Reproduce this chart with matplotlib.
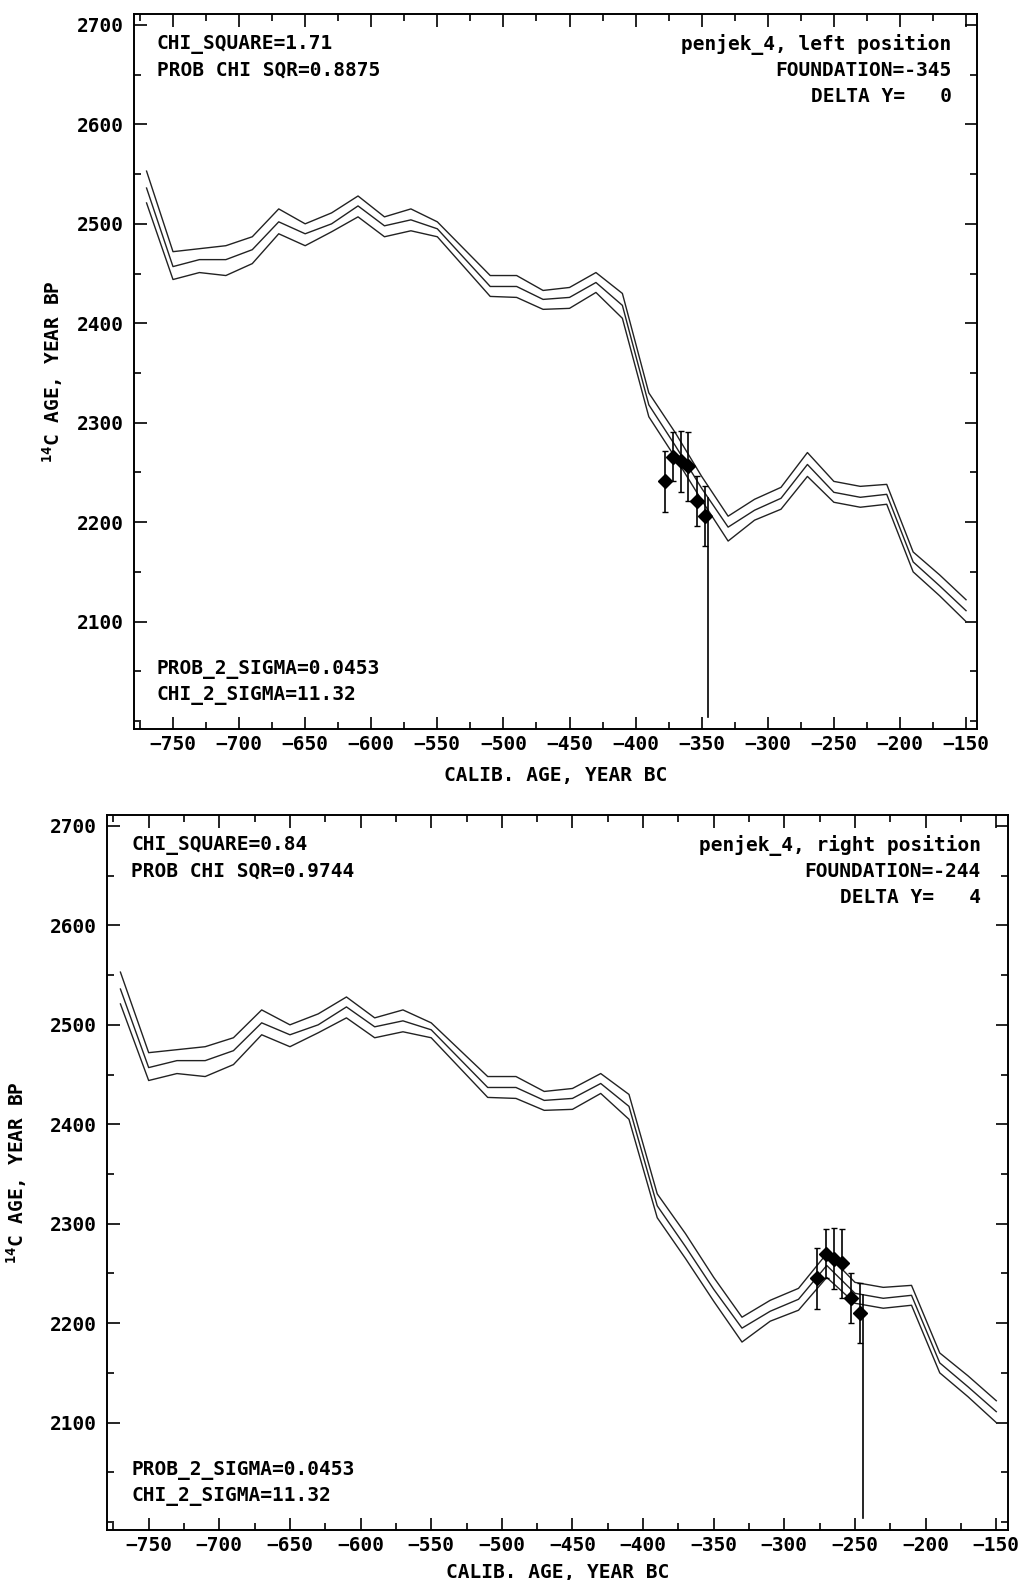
import matplotlib
matplotlib.use('Agg')
import matplotlib.pyplot as plt
from matplotlib.ticker import MultipleLocator
import numpy as np

plt.rcParams['font.family'] = 'DejaVu Sans Mono'
plt.rcParams['font.weight'] = 'bold'
plt.rcParams['axes.labelweight'] = 'bold'
plt.rcParams['mathtext.fontset'] = 'custom'
plt.rcParams['mathtext.rm'] = 'DejaVu Sans Mono:bold'
plt.rcParams['mathtext.default'] = 'rm'

# calibration curve: cal. year, 14C age and the +/- 1 sigma band
cal_years = [-770, -750, -730, -710, -690, -670, -650, -630, -610, -590, -570,
             -550, -530, -510, -490, -470, -450, -430, -410, -390, -370, -350,
             -330, -310, -290, -270, -250, -230, -210, -190, -170, -150]
cal_mid = [2536, 2457, 2464, 2464, 2474, 2502, 2490, 2500, 2518, 2498, 2504,
           2495, 2466, 2437, 2437, 2424, 2426, 2441, 2418, 2318, 2277, 2234,
           2195, 2212, 2224, 2258, 2230, 2225, 2228, 2160, 2136, 2111]
cal_upper = [2553, 2472, 2475, 2478, 2487, 2515, 2500, 2511, 2528, 2507, 2515,
             2502, 2475, 2448, 2448, 2433, 2436, 2451, 2430, 2330, 2290, 2246,
             2206, 2223, 2235, 2270, 2241, 2236, 2238, 2170, 2147, 2122]
cal_lower = [2521, 2444, 2451, 2448, 2460, 2490, 2478, 2492, 2507, 2487, 2493,
             2487, 2457, 2427, 2426, 2414, 2415, 2431, 2405, 2306, 2265, 2222,
             2181, 2202, 2213, 2246, 2220, 2215, 2218, 2150, 2126, 2100]

# wiggle-match samples (rings before foundation)
ring_offsets = [33, 26.5, 21, 15, 8.5, 2.5]
sample_c14 = [2241, 2266, 2261, 2256, 2221, 2206]
sample_err = [31, 25, 31, 35, 25, 30]

# the two panels
positions = ['left position', 'right position']
foundations = [-345, -244]
delta_y = [0, 4]
chi_square = [1.71, 0.84]
prob_chi = [0.8875, 0.9744]
prob_2_sigma = [0.0453, 0.0453]
chi_2_sigma = [11.32, 11.32]
line_bottom = 2004

W, H = 1021, 1580
fig = plt.figure(figsize=(W / 100, H / 100), dpi=100)

# axes boxes in pixels: left, right, top, bottom
boxes = [(134, 977, 14, 729), (107, 1008, 815, 1530)]
ylab_x = [-0.082, -0.087]
xlab_pad = [9, 6]

fs = 14
for i in range(2):
    l, r, t, b = boxes[i]
    ax = fig.add_axes([l / W, 1 - b / H, (r - l) / W, (b - t) / H])

    ax.plot(cal_years, cal_upper, color='#222222', lw=1.0)
    ax.plot(cal_years, cal_mid, color='#222222', lw=1.0)
    ax.plot(cal_years, cal_lower, color='#222222', lw=1.0)

    xs = [foundations[i] - o for o in ring_offsets]
    ys = [v + delta_y[i] for v in sample_c14]
    ax.errorbar(xs, ys, yerr=sample_err, fmt='D', color='black', ms=7,
                elinewidth=1.2, capsize=2.5, capthick=1.0)

    top_val = np.interp(foundations[i], cal_years, cal_mid)
    ax.plot([foundations[i], foundations[i]], [top_val, line_bottom],
            color='black', lw=1.2)

    ax.set_xlim(-779.5, -141.7)
    ax.set_ylim(1992, 2711)
    ax.xaxis.set_major_locator(MultipleLocator(50))
    ax.xaxis.set_minor_locator(MultipleLocator(25))
    ax.yaxis.set_major_locator(MultipleLocator(100))
    ax.yaxis.set_minor_locator(MultipleLocator(50))
    ax.set_yticks([2100, 2200, 2300, 2400, 2500, 2600, 2700])
    ax.tick_params(which='both', direction='in', top=True, right=True,
                   width=1.2, labelsize=fs)
    ax.tick_params(axis='x', pad=4)
    ax.tick_params(axis='y', pad=7)
    ax.tick_params(which='major', length=9)
    ax.tick_params(which='minor', length=5)
    for s in ax.spines.values():
        s.set_linewidth(1.4)

    ax.set_xlabel('CALIB. AGE, YEAR BC', fontsize=fs, labelpad=xlab_pad[i])
    ax.set_ylabel(r'$^{14}$C AGE, YEAR BP', fontsize=fs)
    ax.yaxis.set_label_coords(ylab_x[i], 0.5)

    ax.text(0.027, 0.957, 'CHI_SQUARE=%.2f' % chi_square[i],
            transform=ax.transAxes, fontsize=fs, va='center', ha='left')
    ax.text(0.027, 0.921, 'PROB CHI SQR=%.4f' % prob_chi[i],
            transform=ax.transAxes, fontsize=fs, va='center', ha='left')
    ax.text(0.970, 0.957, 'penjek_4, %s' % positions[i],
            transform=ax.transAxes, fontsize=fs, va='center', ha='right')
    ax.text(0.970, 0.921, 'FOUNDATION=%d' % foundations[i],
            transform=ax.transAxes, fontsize=fs, va='center', ha='right')
    ax.text(0.970, 0.884, 'DELTA Y=%4d' % delta_y[i],
            transform=ax.transAxes, fontsize=fs, va='center', ha='right')
    ax.text(0.027, 0.083, 'PROB_2_SIGMA=%.4f' % prob_2_sigma[i],
            transform=ax.transAxes, fontsize=fs, va='center', ha='left')
    ax.text(0.027, 0.047, 'CHI_2_SIGMA=%.2f' % chi_2_sigma[i],
            transform=ax.transAxes, fontsize=fs, va='center', ha='left')

fig.savefig('out.png', dpi=100)
